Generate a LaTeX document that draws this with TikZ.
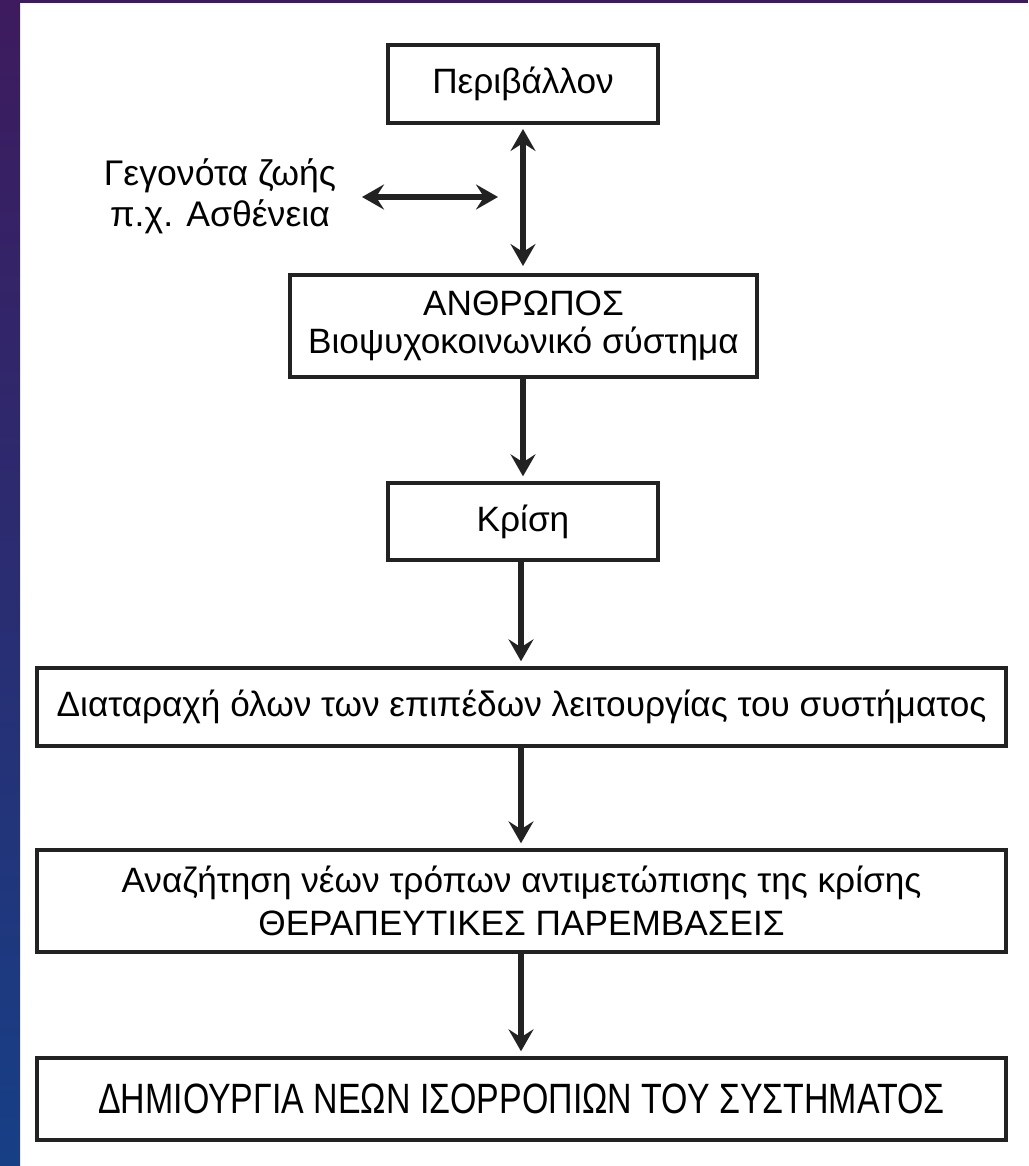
\documentclass[tikz,border=0pt]{standalone}
\usepackage{fontspec}
\setmainfont{Liberation Sans}
\newfontfamily\condfont{Liberation Sans}[FakeStretch=0.8]
\usetikzlibrary{arrows.meta}
\definecolor{bgpurple}{HTML}{3D1B5E}
\definecolor{bgblue}{HTML}{173F86}
\definecolor{boxline}{HTML}{222222}
\tikzset{
  flowbox/.style={draw=boxline, line width=1.7pt, fill=white, inner sep=0pt, align=center, font=\fontsize{17.6}{20}\selectfont},
  flowarrow/.style={line width=2.6pt, draw=boxline, -{Stealth[length=11pt, width=12.5pt, inset=4pt]}, shorten >=2.5pt},
  dblarrow/.style={line width=2.6pt, draw=boxline, {Stealth[length=11pt, width=12.5pt, inset=4pt]}-{Stealth[length=11pt, width=12.5pt, inset=4pt]}}
}
\begin{document}
\begin{tikzpicture}[x=0.5pt, y=-0.5pt]
\useasboundingbox (0,0) rectangle (1028,1166);
\fill[white] (0,0) rectangle (1028,1166);
\shade[top color=bgpurple, bottom color=bgblue] (0,0) rectangle (20,1166);
\fill[bgpurple] (0,0) rectangle (1028,3);

\node[flowbox, minimum width=135pt, minimum height=39pt] (env) at (523,84) {Περιβάλλον};
\node[flowbox, minimum width=233.5pt, minimum height=51pt, font=\fontsize{17.6}{19}\selectfont] (man) at (523.5,326) {ΑΝΘΡΩΠΟΣ\\Βιοψυχοκοινωνικό σύστημα};
\node[flowbox, minimum width=135pt, minimum height=38.5pt] (crisis) at (523,521.5) {Κρίση};
\node[flowbox, minimum width=484.5pt, minimum height=39pt] (dist) at (521.5,707) {Διαταραχή όλων των επιπέδων λειτουργίας του συστήματος};
\node[flowbox, minimum width=484.5pt, minimum height=51pt, font=\fontsize{17.6}{21.5}\selectfont] (search) at (521.5,901) {Αναζήτηση νέων τρόπων αντιμετώπισης της κρίσης\\ΘΕΡΑΠΕΥΤΙΚΕΣ ΠΑΡΕΜΒΑΣΕΙΣ};
\node[flowbox, minimum width=484.5pt, minimum height=41pt, font=\condfont\fontsize{21.2}{24}\selectfont] (newbal) at (521.5,1099) {ΔΗΜΙΟΥΡΓΙΑ ΝΕΩΝ ΙΣΟΡΡΟΠΙΩΝ ΤΟΥ ΣΥΣΤΗΜΑΤΟΣ};

\node[align=center, inner sep=0pt, font=\fontsize{17.8}{20.5}\selectfont] (life) at (220,196) {Γεγονότα ζωής\\π.χ. Ασθένεια};

\coordinate (hl) at (362,197);
\coordinate (hr) at (498,197);
\coordinate (envb) at (523,129);
\coordinate (mant) at (523,266);

\draw[dblarrow] (hl) -- (hr);
\draw[dblarrow] (envb) -- (mant);
\draw[flowarrow] (man.south -| 523,0) -- (crisis.north -| 523,0);
\draw[flowarrow] (crisis.south -| 521,0) -- (dist.north -| 521,0);
\draw[flowarrow] (dist.south -| 521,0) -- (search.north -| 521,0);
\draw[flowarrow] (search.south -| 521,0) -- (newbal.north -| 521,0);
\end{tikzpicture}
\end{document}
